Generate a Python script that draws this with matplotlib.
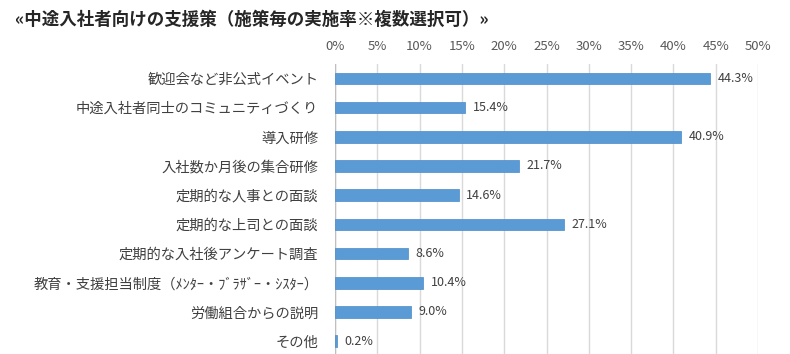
import matplotlib
matplotlib.use("Agg")
import matplotlib.pyplot as plt
from matplotlib.ticker import FixedLocator

plt.rcParams['font.family'] = ['Noto Sans CJK JP', 'DejaVu Sans']

categories = ["歓迎会など非公式イベント", "中途入社者同士のコミュニティづくり", "導入研修",
              "入社数か月後の集合研修", "定期的な人事との面談", "定期的な上司との面談",
              "定期的な入社後アンケート調査", "教育・支援担当制度（ﾒﾝﾀｰ・ﾌﾞﾗｻﾞｰ・ｼｽﾀｰ）",
              "労働組合からの説明", "その他"]
values = [44.3, 15.4, 40.9, 21.7, 14.6, 27.1, 8.6, 10.4, 9.0, 0.2]
xticks = [0, 5, 10, 15, 20, 25, 30, 35, 40, 45, 50]
title = "«中途入社者向けの支援策（施策毎の実施率※複数選択可）»"

fig = plt.figure(figsize=(7.9, 3.54), dpi=100)
ax = fig.add_axes([335/790, -0.005, (758-335)/790, (355-63)/354])
ypos = list(range(len(categories)))
ax.barh(ypos, values, height=0.4, color="#5B9BD5", edgecolor="#4A8AC8", linewidth=0.5, zorder=3)
for y, v in zip(ypos, values):
    ax.text(v + 0.9, y, f"{v:.1f}%", va="center", ha="left", fontsize=9, color="#404040")
ax.set_ylim(len(categories) - 0.5, -0.5)
ax.set_xlim(0, 50)
ax.xaxis.set_major_locator(FixedLocator(xticks))
ax.set_xticklabels([f"{t}%" for t in xticks])
ax.xaxis.tick_top()
ax.tick_params(axis='x', length=0, pad=8, labelsize=9.5, labelcolor="#595959")
ax.set_yticks(ypos)
ax.set_yticklabels(categories)
ax.tick_params(axis='y', length=0, pad=12, labelsize=10.3, labelcolor="#404040")
ax.grid(axis='x', color="#D9D9D9", linewidth=1, zorder=0)
for s in ax.spines.values():
    s.set_visible(False)
ax.axvline(0, color="#BFBFBF", linewidth=1, zorder=2)
fig.text(15/790, 1 - 20/354, title, fontsize=12.6, fontweight='bold', color="#262626", va="center", ha="left")
fig.savefig("out.png", dpi=100)
